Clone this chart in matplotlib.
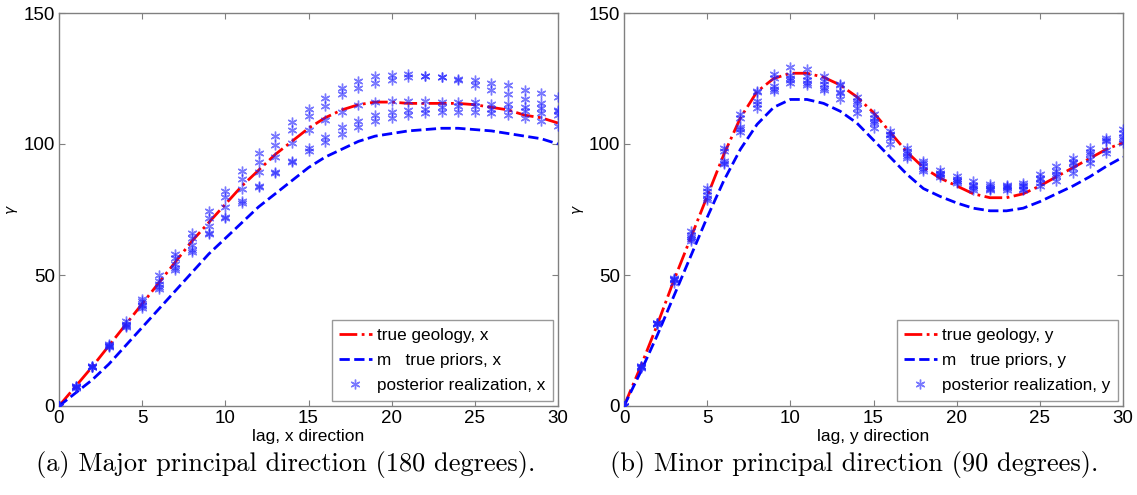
import matplotlib
matplotlib.use("Agg")
import matplotlib.pyplot as plt
import numpy as np

lags = list(range(31))

# ---- Panel (a): x direction ----
geo_x = [0, 7.5, 15, 23, 31, 39, 47, 55, 63, 70, 77, 84, 90, 96, 101, 106,
         110, 113, 115, 116, 116, 115.5, 115.5, 115.5, 115.5, 115, 114, 113, 111, 110, 108]
prior_x = [0, 5, 10, 16, 23, 30, 37, 44, 51, 58, 64, 70, 76, 81, 86, 91,
           95, 98, 101, 103, 104, 105, 105.5, 106, 106, 105.5, 105, 104, 103, 102, 100]
post_x = [
    [0, 7.7, 15.3, 23.7, 32.6, 40.9, 49.9, 57.9, 66.1, 74.4, 82.2, 89.8, 96.5, 102.9, 108.4, 113.4,
     117.5, 121.5, 124.0, 125.9, 126.2, 126.6, 125.9, 125.6, 124.9, 124.4, 123.4, 122.4, 120.8, 119.6, 118.0],
    [0, 7.0, 14.7, 23.0, 31.3, 40.0, 47.9, 56.6, 64.2, 71.6, 79.7, 86.7, 93.3, 99.7, 105.5, 110.5,
     114.6, 118.9, 121.5, 123.4, 124.4, 125.7, 125.9, 125.6, 124.4, 122.4, 120.6, 118.9, 117.3, 115.5, 112.5],
    [0, 7.5, 15.0, 22.4, 30.0, 38.7, 46.7, 54.3, 61.4, 68.8, 75.8, 82.7, 89.5, 95.0, 100.4, 105.2,
     109.0, 112.4, 114.7, 116.0, 116.4, 116.4, 116.4, 116.0, 116.0, 116.0, 115.1, 115.1, 114.2, 113.8, 110.9],
    [0, 7.2, 14.9, 22.8, 31.0, 37.5, 44.8, 51.8, 58.8, 65.5, 71.6, 77.6, 83.4, 88.9, 93.6, 98.4,
     102.6, 106.3, 108.9, 111.2, 112.1, 112.9, 113.4, 114.1, 114.4, 114.4, 113.4, 113.2, 112.5, 111.9, 113.0],
    [0, 7.4, 15.1, 23.2, 30.5, 38.2, 45.5, 52.5, 59.5, 66.0, 72.3, 78.2, 84.0, 89.5, 93.1, 97.5,
     100.9, 103.7, 106.4, 108.7, 110.0, 110.9, 111.9, 112.2, 112.2, 112.2, 111.9, 110.9, 110.0, 108.7, 106.8],
]

# ---- Panel (b): y direction ----
geo_y = [0, 15, 31, 48, 64, 80, 96, 110, 120, 125, 127, 127, 125.5, 122.5, 118, 112,
         104.5, 97, 91, 87, 84, 81, 79.5, 79.5, 81, 84, 87.5, 91, 94.5, 98, 100.5]
prior_y = [0, 13, 27, 42, 57, 72, 86, 98, 107.5, 114, 117, 117, 115.5, 112.5, 108, 101.5,
           95, 88.5, 83, 80, 77.5, 75.5, 74.5, 74.5, 75.5, 78, 81, 84, 87.5, 91.5, 95]
post_y = [
    [0, 15.3, 31.8, 49.0, 66.8, 83.1, 98.3, 111.6, 120.2, 126.9, 129.5, 128.5, 126.0, 122.8, 118.1, 111.3,
     105.0, 98.6, 93.5, 90.0, 87.8, 85.9, 84.9, 84.4, 85.2, 88.4, 91.6, 94.8, 98.6, 102.4, 105.6],
    [0, 14.9, 31.5, 48.5, 65.1, 82.1, 97.5, 110.0, 120.0, 125.3, 125.3, 124.3, 122.8, 122.5, 115.5, 110.0,
     103.5, 96.7, 91.6, 88.7, 86.5, 83.1, 83.3, 83.3, 84.0, 86.5, 89.7, 92.9, 97.1, 101.4, 104.3],
    [0, 14.6, 31.2, 48.0, 63.6, 79.3, 92.9, 105.6, 116.4, 122.1, 123.2, 122.5, 120.5, 119.3, 113.9, 108.8,
     102.4, 95.5, 90.3, 87.4, 85.2, 82.3, 82.3, 82.3, 82.3, 85.2, 87.8, 91.0, 94.2, 97.6, 101.8],
    [0, 15.0, 31.6, 47.1, 62.8, 78.5, 92.3, 104.7, 115.2, 120.2, 124.5, 123.3, 121.5, 117.1, 112.0, 106.2,
     100.1, 94.5, 89.7, 88.0, 85.8, 84.0, 84.0, 83.5, 83.0, 84.0, 85.9, 89.1, 92.9, 96.7, 100.5],
    [0, 15.1, 31.3, 48.5, 64.5, 80.5, 93.5, 106.5, 113.9, 121.0, 126.5, 126.0, 124.0, 120.0, 116.5, 108.0,
     104.0, 97.5, 92.9, 89.0, 86.0, 84.5, 83.0, 84.0, 84.5, 87.0, 88.5, 93.0, 96.0, 101.0, 102.5],
]

xticks = [0, 5, 10, 15, 20, 25, 30]
yticks = [0, 50, 100, 150]

W, H = 1137, 495
fig = plt.figure(figsize=(W / 100, H / 100), dpi=100)
plt.rcParams['font.family'] = ['Liberation Sans', 'DejaVu Sans']

panels = [
    dict(left=59, geo=geo_x, prior=prior_x, post=post_x, d='x', ylx=20,
         xlabel='lag, x direction', caption='(a) Major principal direction (180 degrees).', capx=286),
    dict(left=624, geo=geo_y, prior=prior_y, post=post_y, d='y', ylx=586,
         xlabel='lag, y direction', caption='(b) Minor principal direction (90 degrees).', capx=854),
]

ax_top, ax_bot, ax_w = 13, 406, 499
star = (6, 2, 0)
for p in panels:
    ax = fig.add_axes([p['left'] / W, 1 - ax_bot / H, ax_w / W, (ax_bot - ax_top) / H])
    h1, = ax.plot(lags, p['geo'], color='red', linestyle='-.', linewidth=2,
                  label='true geology, ' + p['d'], zorder=2)
    h2, = ax.plot(lags, p['prior'], color='blue', linestyle='--', linewidth=2,
                  label='m   true priors, ' + p['d'], zorder=2)
    h3 = None
    for r in p['post']:
        hh, = ax.plot(lags, r, linestyle='none', marker=star, markersize=7,
                      markeredgewidth=1.0, color='#2020ff', alpha=0.6, zorder=3,
                      label='posterior realization, ' + p['d'])
        if h3 is None:
            h3 = hh
    ax.set_xlim(0, 30)
    ax.set_ylim(0, 150)
    ax.set_xticks(xticks)
    ax.set_yticks(yticks)
    ax.tick_params(direction='in', top=True, right=True, labelsize=13.5, length=4,
                   color='#808080', pad=3)
    for s in ax.spines.values():
        s.set_color('#808080')
        s.set_linewidth(1.0)
    ax.set_xlabel(p['xlabel'], fontsize=12.5, labelpad=1)
    ax.set_ylabel(r'$\gamma$', fontsize=10)
    ax.yaxis.set_label_coords((p['ylx'] - p['left']) / ax_w, 0.5)
    leg = ax.legend(handles=[h1, h2, h3], loc='lower right', fontsize=12.3,
                    frameon=True, fancybox=False, handlelength=1.9, handletextpad=0.3,
                    labelspacing=0.6, borderaxespad=0.3, borderpad=0.45)
    leg.get_frame().set_edgecolor('#808080')
    leg.get_frame().set_linewidth(1.0)
    fig.text(p['capx'] / W, 1 - 465 / H, p['caption'], ha='center', va='center',
             fontsize=19, family='cmr10')

fig.savefig('out.png', dpi=100)
